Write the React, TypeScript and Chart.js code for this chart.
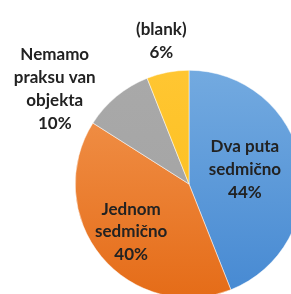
import React, { useEffect, useRef } from "react";
import { Chart, registerables } from "chart.js";

Chart.register(...registerables);

const categories = ["Dva puta sedmično", "Jednom sedmično", "Nemamo praksu van objekta", "(blank)"];
const values = [44, 40, 10, 6];
const labelLines = [
  ["Dva puta", "sedmično", "44%"],
  ["Jednom", "sedmično", "40%"],
  ["Nemamo", "praksu van", "objekta", "10%"],
  ["(blank)", "6%"],
];

const gradTop = ["#73aae0", "#f29650", "#a9a9a9", "#ffc632"];
const gradBottom = ["#4689d2", "#e56c18", "#a2a2a2", "#fbbd16"];
// label placement: radius factor relative to outer radius, plus pixel nudge
const labelPlace = [
  { r: 0.5, dx: 0, dy: -4 },
  { r: 0.66, dx: 0, dy: 0 },
  { r: 1.3, dx: -40, dy: 19 },
  { r: 1.3, dx: 0, dy: 2 },
];

const labelPlugin = {
  id: "sliceLabels",
  afterDatasetsDraw(chart: any) {
    const ctx = chart.ctx;
    const meta = chart.getDatasetMeta(0);
    ctx.save();
    ctx.font = "bold 17px Lato, 'Open Sans', sans-serif";
    ctx.fillStyle = "#222222";
    ctx.textAlign = "center";
    ctx.textBaseline = "middle";
    const lh = 22.8;
    meta.data.forEach((arc: any, i: number) => {
      const p = arc.getProps(["x", "y", "startAngle", "endAngle", "outerRadius"], true);
      const mid = (p.startAngle + p.endAngle) / 2;
      const pl = labelPlace[i];
      const cx = p.x + Math.cos(mid) * p.outerRadius * pl.r + pl.dx;
      const cy = p.y + Math.sin(mid) * p.outerRadius * pl.r + pl.dy;
      const lines = labelLines[i];
      const startY = cy - ((lines.length - 1) * lh) / 2;
      lines.forEach((t, k) => ctx.fillText(t, cx, startY + k * lh));
    });
    ctx.restore();
  },
};

export default function App() {
  const ref = useRef<HTMLCanvasElement | null>(null);
  useEffect(() => {
    document.body.style.margin = "0";
    const canvas = ref.current!;
    const chart = new Chart(canvas, {
      type: "pie",
      data: {
        labels: categories,
        datasets: [
          {
            data: values,
            backgroundColor: (c: any) => {
              const ch = c.chart;
              const area = ch.chartArea;
              if (!area) return gradTop[c.dataIndex];
              const g = ch.ctx.createLinearGradient(0, area.top, 0, area.bottom);
              g.addColorStop(0, gradTop[c.dataIndex]);
              g.addColorStop(1, gradBottom[c.dataIndex]);
              return g;
            },
            borderColor: "#ffffff",
            borderWidth: 0.5,
          },
        ],
      },
      options: {
        animation: false,
        responsive: false,
        maintainAspectRatio: false,
        layout: { padding: { left: 75, top: 70, right: 17, bottom: 22 } },
        plugins: { legend: { display: false }, tooltip: { enabled: false } },
      },
      plugins: [labelPlugin],
    });
    return () => chart.destroy();
  }, []);
  return (
    <div style={{ position: "relative", width: 291, height: 294, overflow: "hidden", background: "#fff" }}>
      <canvas ref={ref} width={320} height={320} style={{ width: 320, height: 320, display: "block" }} />
    </div>
  );
}
